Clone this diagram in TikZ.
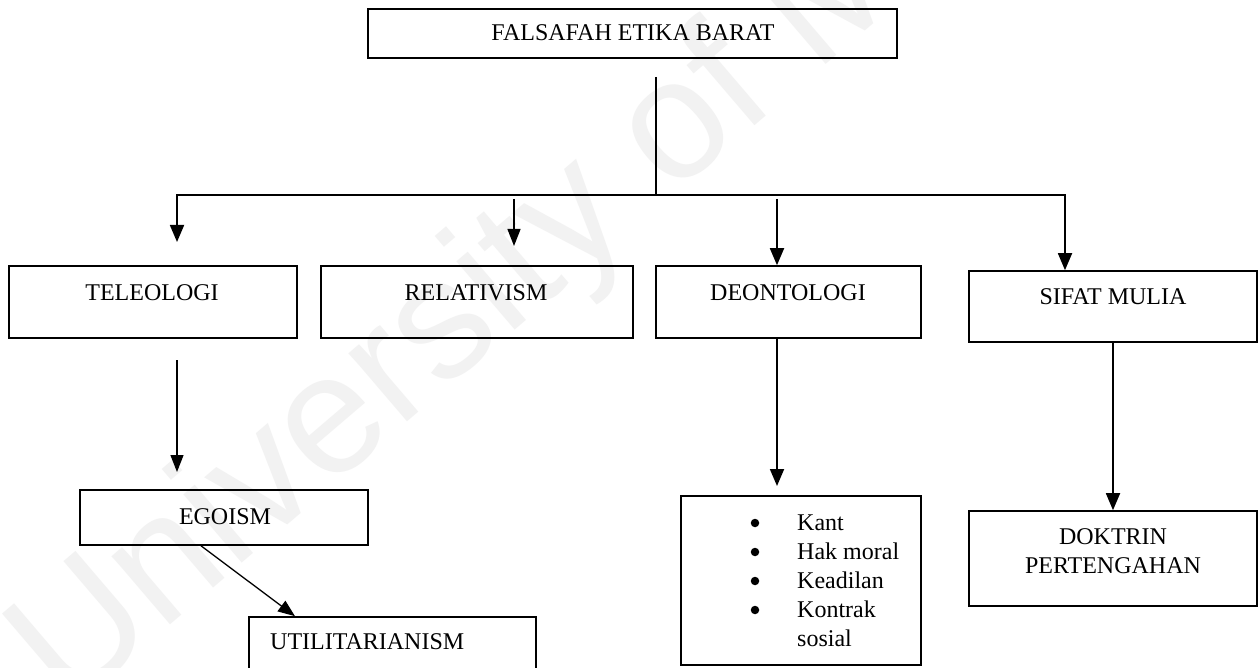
\documentclass[tikz,border=0pt]{standalone}
\usepackage{fontspec}
\setmainfont{Liberation Serif}
\newfontfamily\wmfont{Liberation Sans}
\usetikzlibrary{arrows.meta}
\begin{document}
\begin{tikzpicture}[x=1pt, y=-1pt,
  box/.style={draw, rectangle, line width=1.6pt, inner sep=0pt},
  lbl/.style={inner sep=0pt, anchor=base, font=\fontsize{24pt}{28pt}\selectfont},
  lblw/.style={lbl, anchor=base west},
  dot/.style={circle, fill, inner sep=0pt, minimum size=8.5pt},
  link/.style={line width=1.8pt, -{Triangle[length=17pt,width=14pt]}},
  thinlink/.style={line width=1.3pt, -{Triangle[length=17pt,width=13pt]}},
  stem/.style={line width=1.5pt}
]
\useasboundingbox (0,0) rectangle (1258,668);
\fill[white] (0,0) rectangle (1258,668);

% faint watermark behind the chart
\node[rotate=40.5, anchor=base west, inner sep=0pt, text=black!5,
      font=\wmfont\fontsize{170pt}{170pt}\selectfont] (wm) at (68,712) {University of Malaya};

% boxes
\node[box, minimum width=529, minimum height=49] (top) at (632.5,33.5) {};
\node[box, minimum width=288, minimum height=72] (tel) at (153,302) {};
\node[box, minimum width=312, minimum height=72] (rel) at (477,302) {};
\node[box, minimum width=265, minimum height=72] (deo) at (788.5,302) {};
\node[box, minimum width=288, minimum height=71] (sif) at (1113,306.5) {};
\node[box, minimum width=288, minimum height=55] (ego) at (224,517.5) {};
\node[box, minimum width=287, minimum height=73] (uti) at (392.5,653.5) {};
\node[box, minimum width=240, minimum height=169] (dl) at (801,580.5) {};
\node[box, minimum width=288, minimum height=95] (dk) at (1113,558.5) {};

% box texts
\node[lbl] (topT) at (633,41) {FALSAFAH ETIKA BARAT};
\node[lbl] (telT) at (152,301) {TELEOLOGI};
\node[lbl] (relT) at (476,301) {RELATIVISM};
\node[lbl] (deoT) at (788,301) {DEONTOLOGI};
\node[lbl] (sifT) at (1113,305) {SIFAT MULIA};
\node[lbl] (egoT) at (225,524) {EGOISM};
\node[lblw] (utiT) at (270,649) {UTILITARIANISM};
\node[lbl] (dkT1) at (1113,544) {DOKTRIN};
\node[lbl] (dkT2) at (1113,573) {PERTENGAHAN};

% bulleted list in the deontology box
\foreach \y/\t [count=\i] in {530/Kant, 559/Hak moral, 588/Keadilan, 617/Kontrak} {
  \node[dot] (dlB\i) at (755,\y-7) {};
  \node[lblw] (dlT\i) at (797,\y) {\t};
}
\node[lblw] (dlT5) at (797,646) {sosial};

% connector points
\coordinate (stemtop) at (656,77);
\coordinate (hub) at (656,195);
\coordinate (barL) at (177,195);
\coordinate (barR) at (1065,195);
\coordinate (telTip) at (177,242);
\coordinate (relFrom) at (514,199);
\coordinate (relTip) at (514,246);
\coordinate (deoFrom) at (777,199);
\coordinate (egoFrom) at (177,360);
\coordinate (egoTip) at (177,472);
\coordinate (dlTip) at (777,486);

% connectors
\draw[stem] (stemtop) -- (hub);
\draw[link] (hub) -- (barL) -- (telTip);
\draw[link] (hub) -- (barR) -- (barR |- sif.north);
\draw[thinlink] (relFrom) -- (relTip);
\draw[link] (deoFrom) -- (deoFrom |- deo.north);
\draw[thinlink] (egoFrom) -- (egoTip);
\draw[thinlink] ([xshift=-23pt]ego.south) -- ([xshift=-97.5pt]uti.north);
\draw[link] (deo.south -| deoFrom) -- (dlTip);
\draw[link] (sif.south) -- (dk.north);
\end{tikzpicture}
\end{document}
